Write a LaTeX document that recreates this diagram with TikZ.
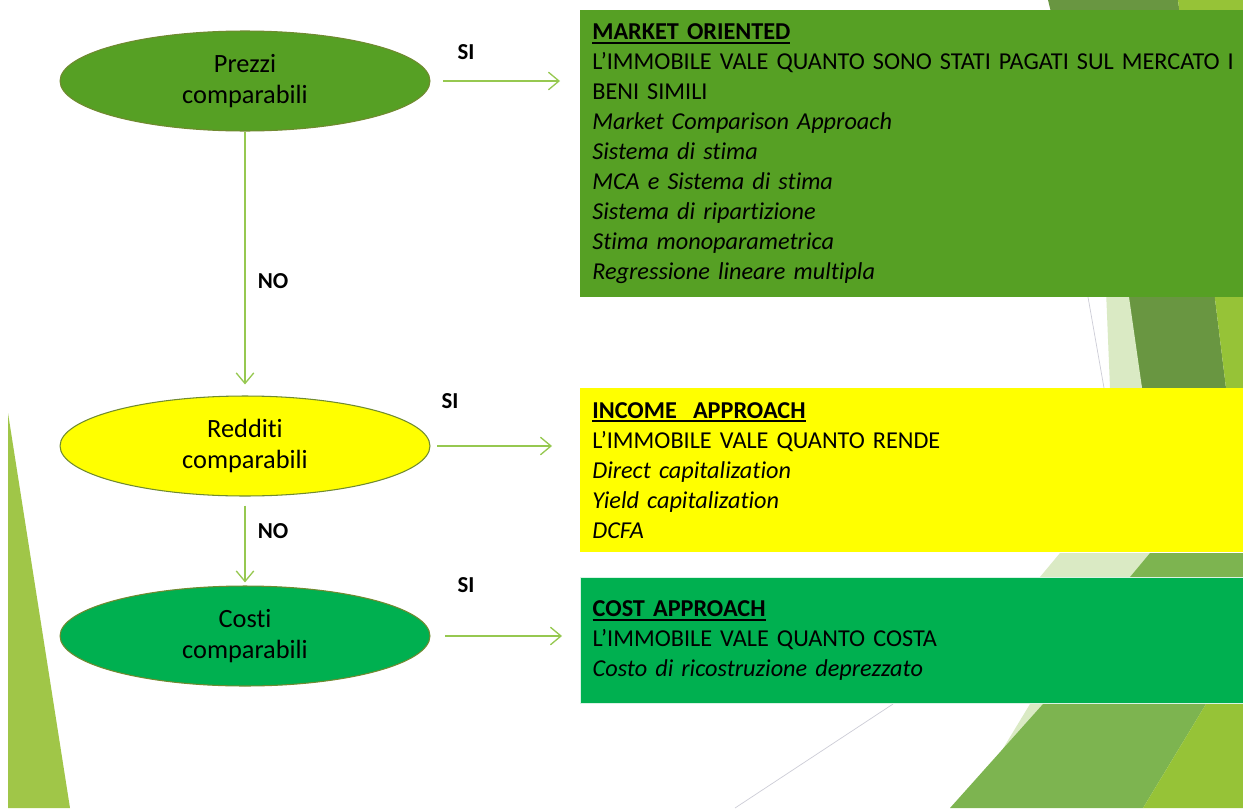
\documentclass[tikz,border=0pt]{standalone}
\usepackage{fontspec}
\setmainfont{Carlito}[Ligatures=NoCommon, WordSpace=0.85]
\usetikzlibrary{arrows.meta,shapes.geometric}
\definecolor{prezzigreen}{RGB}{86,160,36}
\definecolor{costigreen}{RGB}{0,176,80}
\definecolor{redditiyellow}{RGB}{255,255,0}
\definecolor{edgeolive}{RGB}{112,138,48}
\definecolor{arrowgreen}{RGB}{150,200,80}
\definecolor{facetlime}{RGB}{160,198,72}
\definecolor{facetdark}{RGB}{105,150,65}
\definecolor{facetmid}{RGB}{125,180,80}
\definecolor{facetolive}{RGB}{150,195,55}
\definecolor{facetpale}{RGB}{218,234,196}
\definecolor{facetline}{RGB}{205,205,215}
\newcommand{\sottotitolo}[1]{\setbox0\hbox{\textbf{#1}}\rlap{\rule[-2.2pt]{\wd0}{1.1pt}}\box0}

\begin{document}
\begin{tikzpicture}[x=0.02cm, y=-0.02cm,
	every node/.style={font=\fontsize{13.8}{17.07}\selectfont, text=black},
	crit/.style={ellipse, draw=edgeolive, line width=0.6pt, minimum width=7.4cm, minimum height=2cm, align=center, font=\fontsize{15}{17.5}\selectfont},
	metodo/.style={rectangle, anchor=north west, text width=12.78cm, inner xsep=0.24cm, inner ysep=0pt, align=left},
	risp/.style={font=\fontsize{13}{15}\selectfont\bfseries},
	freccia/.style={draw=arrowgreen, line width=0.75pt, -{Straight Barb[length=6pt,width=10pt]}}]
	
	\useasboundingbox (0,0) rectangle (1243,808);
	\fill[white] (0,0) rectangle (1243,808);
	
	% Background facets
	\fill[facetlime] (8,413) -- (8,808) -- (70,808) -- cycle;
	\fill[facetdark] (1048,0) -- (1178,0) -- (1226,388) -- (1142,388) -- cycle;
	\fill[facetolive] (1178,0) -- (1243,0) -- (1243,388) -- (1226,388) -- cycle;
	\fill[facetpale] (1106,290) -- (1128,290) -- (1142,388) -- (1110,388) -- cycle;
	\draw[facetline, line width=0.4pt] (1085,280) -- (1104,388);
	\fill[facetpale] (1060,553) -- (1150,553) -- (1130,577) -- (1040,577) -- cycle;
	\fill[facetmid] (1150,553) -- (1243,553) -- (1243,577) -- (1130,577) -- cycle;
	\fill[facetpale] (1030,704) -- (1045,704) -- (990,770) -- cycle;
	\fill[facetmid] (1043,704) -- (1206,704) -- (1143,808) -- (950,808) -- cycle;
	\fill[facetolive] (1206,704) -- (1243,704) -- (1243,808) -- (1143,808) -- cycle;
	\draw[facetline, line width=0.4pt] (735,808) -- (893,704);
	
	% Nodes
	\node[metodo, fill=prezzigreen, minimum height=5.74cm] (mercato) at (580,10) {\sottotitolo{MARKET ORIENTED}\\
		\mbox{L’IMMOBILE VALE QUANTO SONO STATI PAGATI SUL MERCATO I}\\
		BENI SIMILI\\
		\textit{Market Comparison Approach}\\
		\textit{Sistema di stima}\\
		\textit{MCA e Sistema di stima}\\
		\textit{Sistema di ripartizione}\\
		\textit{Stima monoparametrica}\\
		\textit{Regressione lineare multipla}};
	\node[metodo, fill=redditiyellow, minimum height=3.28cm] (reddito) at (580,388) {\sottotitolo{INCOME\ \ APPROACH}\\
		L’IMMOBILE VALE QUANTO RENDE\\
		\textit{Direct capitalization}\\
		\textit{Yield capitalization}\\
		\textit{DCFA}};
	\node[metodo, fill=costigreen, draw=white!85!costigreen, line width=0.8pt, minimum height=2.52cm] (costo) at (580,577) {\sottotitolo{COST APPROACH}\\
		L’IMMOBILE VALE QUANTO COSTA\\
		\textit{Costo di ricostruzione deprezzato}};
	
	\node[crit, fill=prezzigreen] (prezzi) at (245,81) {Prezzi\\comparabili};
	\node[crit, fill=redditiyellow] (redditi) at (245,446) {Redditi\\comparabili};
	\node[crit, fill=costigreen] (costi) at (245,636) {Costi\\comparabili};
	
	\node[risp] (si1) at (466,52) {SI};
	\node[risp] (si2) at (450,401) {SI};
	\node[risp] (si3) at (466,585) {SI};
	\node[risp] (no1) at (273,281) {NO};
	\node[risp] (no2) at (273,531) {NO};
	
	% Edges
	\draw[freccia, shorten <=0.26cm, shorten >=0.4cm] (prezzi.east) -- (prezzi.east -| mercato.west);
	\draw[freccia, shorten <=0.14cm, shorten >=0.56cm] (redditi.east) -- (redditi.east -| reddito.west);
	\draw[freccia, shorten <=0.3cm, shorten >=0.36cm] (costi.east) -- (costi.east -| costo.west);
	\draw[freccia, shorten >=0.22cm] (prezzi.south) -- (redditi.north);
	\draw[freccia, shorten <=0.18cm, shorten >=0.06cm] (redditi.south) -- (costi.north);
	
\end{tikzpicture}
\end{document}
